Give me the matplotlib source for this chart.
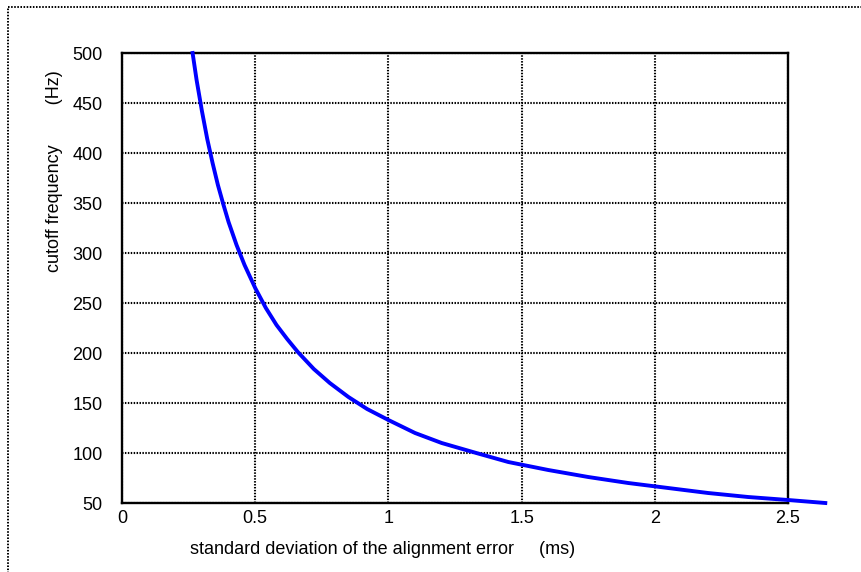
import matplotlib
matplotlib.use("Agg")
import matplotlib.pyplot as plt
from matplotlib.patches import Rectangle

# values
sigma_ms = [0.265, 0.28, 0.30, 0.32, 0.34, 0.36, 0.38, 0.40, 0.43, 0.46, 0.50,
            0.54, 0.58, 0.62, 0.66, 0.72, 0.78, 0.85, 0.92, 1.00, 1.10, 1.20,
            1.33, 1.45, 1.60, 1.75, 1.90, 2.05, 2.20, 2.35, 2.50, 2.64]
cutoff_hz = [500, 473, 442, 414, 390, 368, 349, 331, 308, 288, 265,
             245, 228, 214, 201, 184, 170, 156, 144, 133, 120, 110,
             100, 91, 83, 76, 70, 65, 60, 56, 53, 50]
xticks = [0, 0.5, 1, 1.5, 2, 2.5]
xticklabels = ["0", "0.5", "1", "1.5", "2", "2.5"]
yticks = list(range(50, 501, 50))

plt.rcParams['font.family'] = ['Liberation Sans', 'DejaVu Sans']

fig = plt.figure(figsize=(8.61, 5.72), dpi=100)
ax = fig.add_axes([122/861, 1 - 503/572, 666/861, 450/572])

ax.plot(sigma_ms, cutoff_hz, color='#0000ff', lw=2.8, clip_on=False, zorder=5)

ax.set_xlim(0, 2.5)
ax.set_ylim(50, 500)
ax.set_xticks(xticks)
ax.set_xticklabels(xticklabels)
ax.set_yticks(yticks)
ax.tick_params(length=0, labelsize=13)
ax.tick_params(axis='x', pad=5)
ax.tick_params(axis='y', pad=14)
ax.grid(True, color='black', linestyle=(0, (0.7, 0.7)), lw=1.5)
for s in ax.spines.values():
    s.set_linewidth(1.7)

ax.set_xlabel("standard deviation of the alignment error     (ms)", fontsize=13)
ax.xaxis.set_label_coords(0.391, -0.084)
ax.set_ylabel("cutoff frequency        (Hz)", fontsize=13)
ax.yaxis.set_label_coords(-0.088, 0.737)

# dotted frame around the chart
fig.patches.append(Rectangle((8/861, -0.1), 1.2, 1.1 - 7/572, transform=fig.transFigure,
                             fill=False, edgecolor='black', lw=1.4, linestyle=(0, (0.8, 0.8))))

fig.savefig("out.png", dpi=100)
